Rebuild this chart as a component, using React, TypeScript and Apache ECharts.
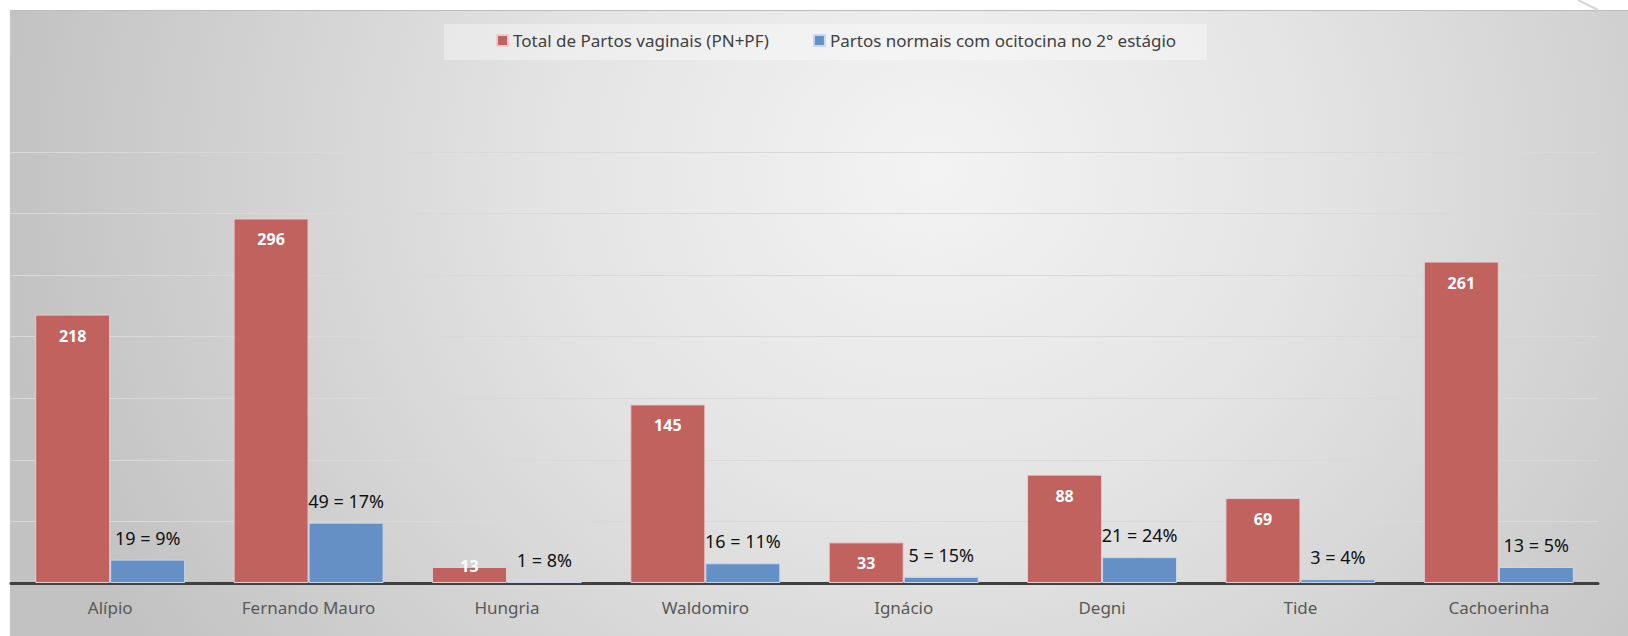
import React, { useEffect, useRef } from "react";
import * as echarts from "echarts";

const categories = ["Alípio", "Fernando Mauro", "Hungria", "Waldomiro", "Ignácio", "Degni", "Tide", "Cachoerinha"];
const totalVaginais = [218, 296, 13, 145, 33, 88, 69, 261];
const ocitocina = [19, 49, 1, 16, 5, 21, 3, 13];
const ocitocinaPct = [9, 17, 8, 11, 15, 24, 4, 5];
const seriesNames = ["Total de Partos vaginais (PN+PF)", "Partos normais com ocitocina no 2° estágio"];
const yMax = 350;
const yStep = 50;

const FONT = "'Noto Sans', 'DejaVu Sans', sans-serif";

export default function App() {
  const ref = useRef<HTMLDivElement>(null);

  useEffect(() => {
    document.body.style.margin = "0";
    const chart = echarts.init(ref.current!, null, { renderer: "svg" });
    chart.setOption({
      animation: false,
      backgroundColor: "transparent",
      textStyle: { fontFamily: FONT },
      graphic: [
        {
          type: "rect",
          z: 0,
          shape: { x: 444, y: 24, width: 763, height: 36 },
          style: { fill: "rgba(255,255,255,0.35)" },
        },
        {
          type: "line",
          z: 0,
          shape: { x1: 1578, y1: 0, x2: 1598, y2: 10 },
          style: { stroke: "#d6d6d6", lineWidth: 2 },
        },
      ],
      legend: {
        left: 496,
        top: 32,
        padding: 0,
        icon: "rect",
        itemWidth: 11,
        itemHeight: 11,
        itemGap: 44,
        textStyle: { fontSize: 17, color: "#404040", fontFamily: FONT },
        data: seriesNames,
      },
      grid: { left: 11, right: 30, top: 152, bottom: 53, containLabel: false },
      xAxis: {
        type: "category",
        data: categories,
        offset: 2,
        axisTick: { show: false },
        axisLine: { lineStyle: { color: "#404040", width: 3 } },
        axisLabel: { color: "#595959", fontSize: 17, margin: 14, fontFamily: FONT },
        splitLine: { show: false },
      },
      yAxis: {
        type: "value",
        min: 0,
        max: yMax,
        interval: yStep,
        axisLabel: { show: false },
        axisLine: { show: false },
        axisTick: { show: false },
        splitLine: { lineStyle: { color: "#d9d9d9", width: 1 } },
      },
      series: [
        {
          name: seriesNames[0],
          type: "bar",
          barWidth: 75,
          barGap: "0%",
          itemStyle: { color: "#c1625f", borderColor: "#e6cfce", borderWidth: 1 },
          data: totalVaginais.map((v) =>
            v < 20
              ? { value: v, label: { position: "top", distance: -7 } }
              : v
          ),
          label: {
            show: true,
            position: "insideTop",
            distance: 13,
            color: "#ffffff",
            fontWeight: "bold",
            fontSize: 16,
            fontFamily: FONT,
          },
        },
        {
          name: seriesNames[1],
          type: "bar",
          barWidth: 75,
          itemStyle: { color: "#6490c6", borderColor: "#c9d8ec", borderWidth: 1 },
          data: ocitocina,
          label: {
            show: true,
            position: "top",
            distance: 13,
            color: "#111111",
            fontSize: 18,
            fontFamily: FONT,
            formatter: (p: any) => `${ocitocina[p.dataIndex]} = ${ocitocinaPct[p.dataIndex]}%`,
          },
        },
      ],
    });
    return () => chart.dispose();
  }, []);

  return (
    <div style={{ position: "relative", width: 1628, height: 636, background: "#ffffff", overflow: "hidden" }}>
      <div
        style={{
          position: "absolute",
          left: 10,
          top: 10,
          width: 1618,
          height: 626,
          borderTop: "1px solid #bcbcbc",
          boxSizing: "border-box",
          background:
            "radial-gradient(ellipse 58% 140% at 57% 25%, #f3f3f3 0%, #e4e4e4 40%, #c2c2c2 100%)",
        }}
      />
      <div ref={ref} style={{ position: "absolute", left: 0, top: 0, width: 1628, height: 636 }} />
    </div>
  );
}
